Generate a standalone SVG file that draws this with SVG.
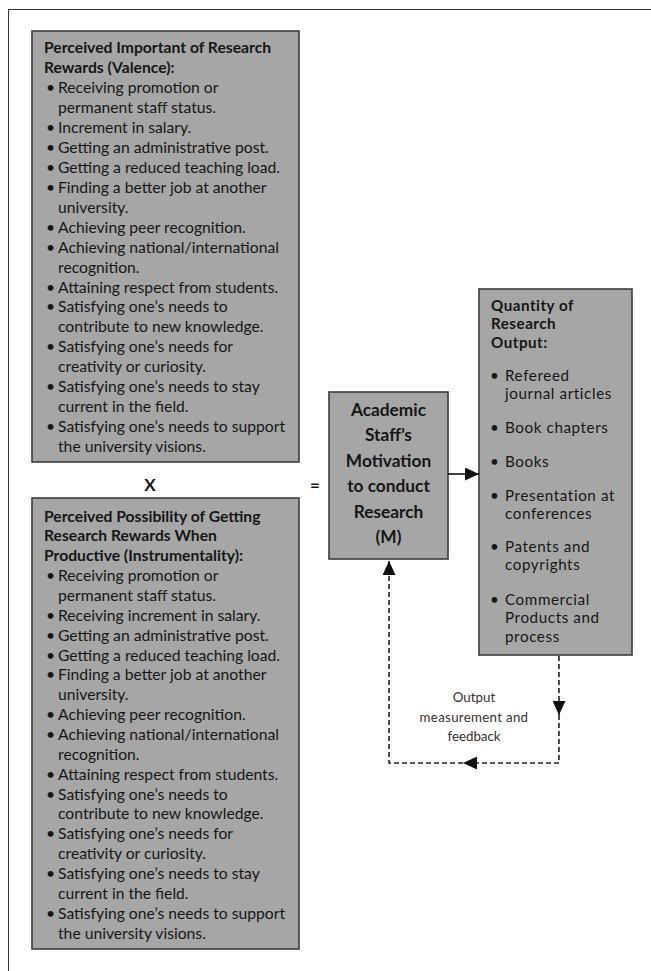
<svg xmlns="http://www.w3.org/2000/svg" width="651" height="971" viewBox="0 0 651 971">
<defs>
<style>
.box{fill:#a6a6a6;stroke:#3c3c3c;stroke-width:1.6}
.t{font-family:Lato,"Liberation Sans",sans-serif;font-size:15.7px;fill:#161616}
.b{font-weight:bold}
.m{font-family:Lato,"Liberation Sans",sans-serif;font-size:17.3px;font-weight:bold;fill:#161616;text-anchor:middle}
.r{font-family:Lato,"Liberation Sans",sans-serif;font-size:15.2px;letter-spacing:0.6px;fill:#161616}
.rb{font-weight:bold;letter-spacing:0.5px}
.lbl{font-family:Lato,"Liberation Sans",sans-serif;font-size:13.3px;fill:#3a2e2e;text-anchor:middle}
.sym{font-family:Lato,"Liberation Sans",sans-serif;font-size:17px;font-weight:bold;fill:#161616;text-anchor:middle}
.solid{stroke:#111;stroke-width:1.6;fill:none}
.dash{stroke:#222;stroke-width:1.6;fill:none;stroke-dasharray:5 3}
</style>
<marker id="ah" markerUnits="userSpaceOnUse" markerWidth="14" markerHeight="13" refX="14" refY="6.5" orient="auto">
<path d="M0,0 L14,6.5 L0,13 Z" fill="#111"/>
</marker>
</defs>
<rect width="651" height="971" fill="#fff"/>
<path d="M8.5,971 V9.5 H651" fill="none" stroke="#333" stroke-width="1"/>

<g id="valence">
<rect class="box" x="32" y="31" width="267" height="431"/>
<text class="t b" x="44" y="53.3">Perceived Important of Research</text>
<text class="t b" x="44" y="73.2">Rewards (Valence):</text>
<text class="t" x="46" y="93.2">•</text><text class="t" x="58" y="93.2">Receiving promotion or</text>
<text class="t" x="58" y="113.1">permanent staff status.</text>
<text class="t" x="46" y="133">•</text><text class="t" x="58" y="133">Increment in salary.</text>
<text class="t" x="46" y="153">•</text><text class="t" x="58" y="153">Getting an administrative post.</text>
<text class="t" x="46" y="172.9">•</text><text class="t" x="58" y="172.9">Getting a reduced teaching load.</text>
<text class="t" x="46" y="192.8">•</text><text class="t" x="58" y="192.8">Finding a better job at another</text>
<text class="t" x="58" y="212.7">university.</text>
<text class="t" x="46" y="232.7">•</text><text class="t" x="58" y="232.7">Achieving peer recognition.</text>
<text class="t" x="46" y="252.6">•</text><text class="t" x="58" y="252.6">Achieving national/international</text>
<text class="t" x="58" y="272.5">recognition.</text>
<text class="t" x="46" y="292.5">•</text><text class="t" x="58" y="292.5">Attaining respect from students.</text>
<text class="t" x="46" y="312.4">•</text><text class="t" x="58" y="312.4">Satisfying one’s needs to</text>
<text class="t" x="58" y="332.3">contribute to new knowledge.</text>
<text class="t" x="46" y="352.3">•</text><text class="t" x="58" y="352.3">Satisfying one’s needs for</text>
<text class="t" x="58" y="372.2">creativity or curiosity.</text>
<text class="t" x="46" y="392.1">•</text><text class="t" x="58" y="392.1">Satisfying one’s needs to stay</text>
<text class="t" x="58" y="412">current in the field.</text>
<text class="t" x="46" y="432">•</text><text class="t" x="58" y="432">Satisfying one’s needs to support</text>
<text class="t" x="58" y="451.9">the university visions.</text>
</g>

<g id="times">
<text class="sym" x="150" y="491">X</text>
</g>
<g id="equals">
<text class="sym" x="315" y="491">=</text>
</g>

<g id="instrumentality">
<rect class="box" x="32" y="498" width="267" height="451"/>
<text class="t b" x="44" y="521.5">Perceived Possibility of Getting</text>
<text class="t b" x="44" y="541.4">Research Rewards When</text>
<text class="t b" x="44" y="561.2">Productive (Instrumentality):</text>
<text class="t" x="46" y="581.1">•</text><text class="t" x="58" y="581.1">Receiving promotion or</text>
<text class="t" x="58" y="601">permanent staff status.</text>
<text class="t" x="46" y="620.8">•</text><text class="t" x="58" y="620.8">Receiving increment in salary.</text>
<text class="t" x="46" y="640.7">•</text><text class="t" x="58" y="640.7">Getting an administrative post.</text>
<text class="t" x="46" y="660.5">•</text><text class="t" x="58" y="660.5">Getting a reduced teaching load.</text>
<text class="t" x="46" y="680.4">•</text><text class="t" x="58" y="680.4">Finding a better job at another</text>
<text class="t" x="58" y="700.2">university.</text>
<text class="t" x="46" y="720.1">•</text><text class="t" x="58" y="720.1">Achieving peer recognition.</text>
<text class="t" x="46" y="740">•</text><text class="t" x="58" y="740">Achieving national/international</text>
<text class="t" x="58" y="759.8">recognition.</text>
<text class="t" x="46" y="779.7">•</text><text class="t" x="58" y="779.7">Attaining respect from students.</text>
<text class="t" x="46" y="799.5">•</text><text class="t" x="58" y="799.5">Satisfying one’s needs to</text>
<text class="t" x="58" y="819.4">contribute to new knowledge.</text>
<text class="t" x="46" y="839.3">•</text><text class="t" x="58" y="839.3">Satisfying one’s needs for</text>
<text class="t" x="58" y="859.1">creativity or curiosity.</text>
<text class="t" x="46" y="879">•</text><text class="t" x="58" y="879">Satisfying one’s needs to stay</text>
<text class="t" x="58" y="898.8">current in the field.</text>
<text class="t" x="46" y="918.7">•</text><text class="t" x="58" y="918.7">Satisfying one’s needs to support</text>
<text class="t" x="58" y="938.5">the university visions.</text>
</g>

<g id="motivation">
<rect class="box" x="329" y="392" width="119" height="167"/>
<text class="m" x="388.5" y="416">Academic</text>
<text class="m" x="388.5" y="441">Staff’s</text>
<text class="m" x="388.5" y="467">Motivation</text>
<text class="m" x="388.5" y="492">to conduct</text>
<text class="m" x="388.5" y="518">Research</text>
<text class="m" x="388.5" y="543">(M)</text>
</g>

<g id="output">
<rect class="box" x="479" y="289" width="153" height="366"/>
<text class="r rb" x="491" y="311">Quantity of</text>
<text class="r rb" x="491" y="329.3">Research</text>
<text class="r rb" x="491" y="347.6">Output:</text>
<text class="r" x="490" y="381">•</text><text class="r" x="505" y="381">Refereed</text>
<text class="r" x="505" y="399.3">journal articles</text>
<text class="r" x="490" y="433">•</text><text class="r" x="505" y="433">Book chapters</text>
<text class="r" x="490" y="467">•</text><text class="r" x="505" y="467">Books</text>
<text class="r" x="490" y="500.5">•</text><text class="r" x="505" y="500.5">Presentation at</text>
<text class="r" x="505" y="518.8">conferences</text>
<text class="r" x="490" y="552">•</text><text class="r" x="505" y="552">Patents and</text>
<text class="r" x="505" y="570.3">copyrights</text>
<text class="r" x="490" y="605">•</text><text class="r" x="505" y="605">Commercial</text>
<text class="r" x="505" y="623.3">Products and</text>
<text class="r" x="505" y="641.6">process</text>
</g>

<g id="connectors">
<path class="solid" d="M448,474 H479" marker-end="url(#ah)"/>
<path class="dash" d="M559,656 V715" marker-end="url(#ah)"/>
<path class="dash" d="M559,715 V763 H463" marker-end="url(#ah)"/>
<path class="dash" d="M463,763 H389 V561" marker-end="url(#ah)"/>
</g>

<g id="feedback-label">
<text class="lbl" x="474" y="702">Output</text>
<text class="lbl" x="474" y="722" letter-spacing="0.3">measurement and</text>
<text class="lbl" x="474" y="741">feedback</text>
</g>
</svg>
